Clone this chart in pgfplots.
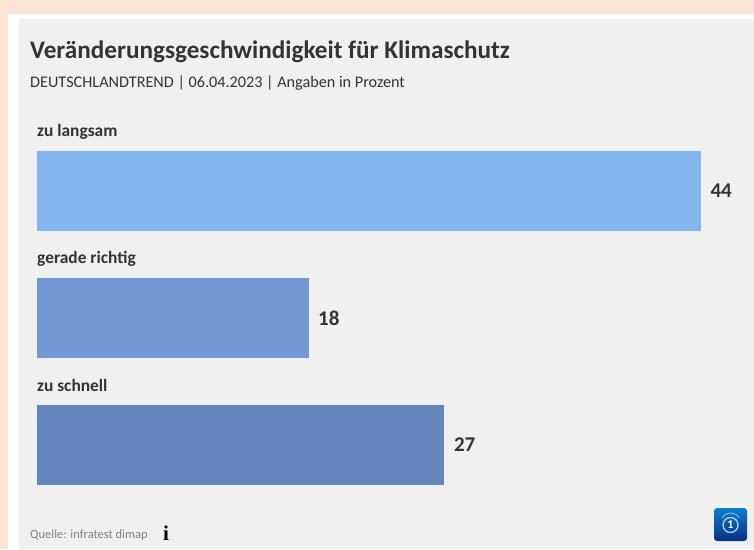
\documentclass[border=0pt]{standalone}
\usepackage{fontspec}
\setmainfont{Carlito}
\newfontfamily\iconfont{Liberation Serif}
\usepackage{pgfplots}
\pgfplotsset{compat=1.18}
\definecolor{peach}{HTML}{FBE3D6}
\definecolor{panel}{HTML}{F0F0F0}
\definecolor{barA}{HTML}{85B5F0}
\definecolor{barB}{HTML}{7299D6}
\definecolor{barC}{HTML}{6484BC}
\definecolor{txt}{HTML}{333333}
\definecolor{logoTop}{HTML}{0F7CCB}
\definecolor{logoBot}{HTML}{06307F}
\definecolor{ring}{HTML}{A9D4F2}
\begin{document}
\begin{tikzpicture}[x=1pt,y=1pt]
  % page background, y runs upward from the bottom of the 549 high page
  \fill[peach] (0,0) rectangle (754,549);
  \fill[white] (8,0) rectangle (754,535);
  \fill[panel] (19,0) rectangle (754,530);
  \begin{axis}[
    at={(0,0)}, anchor=south west,
    scale only axis,
    width=754pt, height=549pt,
    xmin=-2.452, xmax=47.51,
    ymin=-1.504, ymax=2.819,
    y dir=reverse,
    hide axis,
    clip=false,
    xbar,
    bar shift=0pt,
    bar width=80pt,
    /pgf/number format/assume math mode=true,
    nodes near coords,
    every node near coord/.append style={font=\fontsize{21}{21}\selectfont\bfseries, text=txt, anchor=west, xshift=6pt},
  ]
    \addplot[draw=none, fill=barA] coordinates {(44,0)};
    \addplot[draw=none, fill=barB] coordinates {(18,1)};
    \addplot[draw=none, fill=barC] coordinates {(27,2)};
  \end{axis}
  \node[anchor=base west, inner sep=0, text=txt, font=\fontsize{25.2}{26}\selectfont\bfseries] at (30,549-59) {Veränderungsgeschwindigkeit für Klimaschutz};
  \node[anchor=base west, inner sep=0, text=txt, font=\fontsize{16.2}{17}\selectfont] at (30,549-88) {DEUTSCHLANDTREND | 06.04.2023 | Angaben in Prozent};
  \node[anchor=base west, inner sep=0, text=txt, font=\fontsize{17.4}{18}\selectfont\bfseries] at (37,549-136.5) {zu langsam};
  \node[anchor=base west, inner sep=0, text=txt, font=\fontsize{17.4}{18}\selectfont\bfseries] at (37,549-263.5) {gerade richtig};
  \node[anchor=base west, inner sep=0, text=txt, font=\fontsize{17.4}{18}\selectfont\bfseries] at (37,549-391) {zu schnell};
  \node[anchor=base west, inner sep=0, text=gray, font=\fontsize{12.5}{13}\selectfont] at (30,549-538) {Quelle: infratest dimap};
  \node[anchor=base, inner sep=0, text=black, font=\iconfont\fontsize{21}{21}\selectfont\bfseries] at (166,549-540) {i};
  % ARD logo
  \shade[rounded corners=3pt, top color=logoTop, bottom color=logoBot] (714,549-541) rectangle (747,549-508);
  \draw[ring, line width=1.3pt] (730.5,549-525) circle (7.5pt);
  \draw[ring!70!logoTop, line width=1pt] (722,549-518) arc (150:30:10pt);
  \node[text=white, inner sep=0, font=\fontsize{12}{12}\selectfont\bfseries] at (730.5,549-525) {1};
\end{tikzpicture}
\end{document}
